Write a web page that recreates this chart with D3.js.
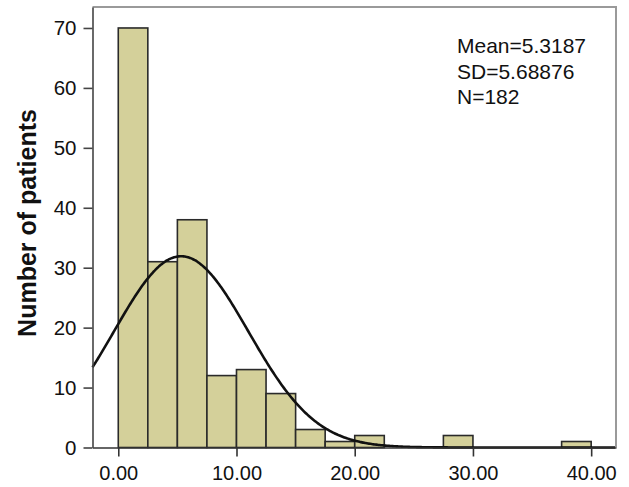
<!DOCTYPE html>
<html>
<head>
<meta charset="utf-8">
<script src="https://cdn.jsdelivr.net/npm/d3@7"></script>
<style>
html,body{margin:0;padding:0;background:#fff;}
svg{display:block;}
text{font-family:"Liberation Sans",Arial,sans-serif;fill:#111;}
</style>
</head>
<body>
<svg id="chart" width="629" height="487"></svg>
<script>
// Histogram bins (lower edge, width 2.5) and counts
const binStarts = [0, 2.5, 5, 7.5, 10, 12.5, 15, 17.5, 20, 22.5, 25, 27.5, 30, 32.5, 35, 37.5];
const counts    = [70, 31, 38, 12, 13, 9, 3, 1, 2, 0, 0, 2, 0, 0, 0, 1];
const binWidth = 2.5;
const xTicks = [0, 10, 20, 30, 40];
const xTickLabels = ["0.00", "10.00", "20.00", "30.00", "40.00"];
const yTicks = [0, 10, 20, 30, 40, 50, 60, 70];
const statLines = ["Mean=5.3187", "SD=5.68876", "N=182"];
const mean = 5.3187, sd = 5.68876, n = 182;
const yLabel = "Number of patients";

const svg = d3.select("#chart");
const L = 92.5, R = 616, T = 7, B = 447.5;

const x = d3.scaleLinear().domain([-2.18, 42.1]).range([L, R]);
const y = d3.scaleLinear().domain([0, 73.5]).range([B, T]);

// frame (top/right, light gray)
svg.append("path")
  .attr("d", `M${L},${T}H${R}V${B}`)
  .attr("fill", "none").attr("stroke", "#9a9a9a").attr("stroke-width", 2);

// bars
svg.append("g").selectAll("rect")
  .data(binStarts.map((s, i) => ({s, c: counts[i]})).filter(d => d.c > 0))
  .join("rect")
  .attr("x", d => x(d.s))
  .attr("y", d => y(d.c))
  .attr("width", d => x(d.s + binWidth) - x(d.s))
  .attr("height", d => y(0) - y(d.c))
  .attr("fill", "#d4d09a")
  .attr("stroke", "#2a2a2a")
  .attr("stroke-width", 1.6);

// normal curve from stated mean, SD, N
const pdf = v => n * binWidth * Math.exp(-0.5 * ((v - mean) / sd) ** 2) / (sd * Math.sqrt(2 * Math.PI));
const xs = d3.range(-2.18, 42.1, 0.1);
svg.append("path")
  .datum(xs)
  .attr("d", d3.line().x(v => x(v)).y(v => y(pdf(v))).curve(d3.curveBasis))
  .attr("fill", "none").attr("stroke", "#111").attr("stroke-width", 2.6);

// axes
const xAxis = d3.axisBottom(x).tickValues(xTicks).tickFormat((d, i) => xTickLabels[i]).tickSize(9).tickPadding(9).tickSizeOuter(0);
const gx = svg.append("g").attr("transform", `translate(0,${B})`).call(xAxis);
gx.select(".domain").attr("stroke", "#333").attr("stroke-width", 1.6);
gx.selectAll(".tick line").attr("stroke", "#333").attr("stroke-width", 1.6);
gx.selectAll(".tick text").attr("font-size", 20).attr("font-family", "Liberation Sans, Arial, sans-serif").attr("fill", "#111");

const yAxis = d3.axisLeft(y).tickValues(yTicks).tickSize(9).tickPadding(7).tickSizeOuter(0);
const gy = svg.append("g").attr("transform", `translate(${L},0)`).call(yAxis);
gy.select(".domain").attr("stroke", "#444").attr("stroke-width", 1.6);
gy.selectAll(".tick line").attr("stroke", "#444").attr("stroke-width", 1.6);
gy.selectAll(".tick text").attr("font-size", 20.5).attr("font-family", "Liberation Sans, Arial, sans-serif").attr("fill", "#111");

// y label
svg.append("text")
  .attr("transform", `translate(36,223) rotate(-90)`)
  .attr("text-anchor", "middle")
  .attr("font-size", 25).attr("font-weight", "bold")
  .text(yLabel);

// stats
svg.append("g").selectAll("text").data(statLines).join("text")
  .attr("x", 457).attr("y", (d, i) => 53 + i * 25.5)
  .attr("font-size", 21)
  .text(d => d);
</script>
</body>
</html>
